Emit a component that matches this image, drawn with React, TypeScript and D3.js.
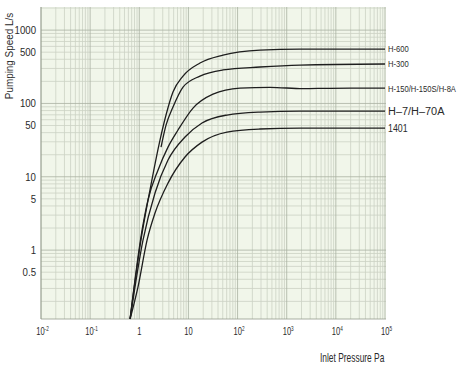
import React from 'react';
import * as d3 from 'd3';

// inlet pressure (Pa) vs pumping speed (L/s)
const pressureTicks = [0.01, 0.1, 1, 10, 100, 1000, 10000, 100000];
const pressureTickLabels: [string, string][] = [
  ['10', '-2'], ['10', '-1'], ['1', ''], ['10', ''], ['10', '2'], ['10', '3'], ['10', '4'], ['10', '5'],
];
const speedTicks = [1000, 500, 100, 50, 10, 5, 1, 0.5];

const h600: [number, number][] = [
  [0.65, 0.115], [1.08, 1.37], [1.65, 6.6], [2.64, 31.7], [3.5, 69.5], [4.85, 143],
  [7.76, 236], [17.2, 356], [50.6, 457], [286, 535], [1866, 552], [100000, 552],
];
const h300: [number, number][] = [
  [2.77, 25.4], [3.5, 50.7], [4.85, 89.3], [7.76, 167], [17.2, 236], [50.6, 286],
  [286, 314], [1866, 334], [100000, 345],
];
const h150: [number, number][] = [
  [0.65, 0.115], [1.14, 1.87], [1.5, 4.81], [2.4, 12.3], [3.84, 25.4], [6.14, 43.4],
  [12.4, 86.5], [31.6, 134], [112, 162], [457, 166], [2147, 159], [7600, 161], [100000, 162],
];
const h7: [number, number][] = [
  [0.65, 0.115], [1.19, 1.37], [2.09, 6.0], [3.84, 16.9], [8.52, 34.8], [18.9, 54.1],
  [61, 69.5], [286, 76.3], [1866, 78.7], [100000, 78.7],
];
const p1401: [number, number][] = [
  [0.65, 0.115], [0.94, 0.313], [1.44, 1.37], [2.09, 3.2], [3.84, 8.2], [8.52, 18.6],
  [18.9, 29.7], [61, 40.7], [286, 44.8], [1866, 46.2], [100000, 46.2],
];

const seriesNames = ['H-600', 'H-300', 'H-150/H-150S/H-8A', 'H\u20137/H\u201370A', '1401'];
const seriesData = [h600, h300, h150, h7, p1401];
// label font size / horizontal squeeze, the scan's type is condensed
const labelStyle = [
  { size: 9.5, sx: 0.8 },
  { size: 9.5, sx: 0.8 },
  { size: 9.5, sx: 0.8 },
  { size: 11.5, sx: 0.95 },
  { size: 11, sx: 0.8 },
];

const W = 460;
const H = 368;
const font = '"Liberation Sans", Arial, sans-serif';
const ink = '#2a2a2a';

function Txt({ x, y, sx = 1, size, anchor = 'start', rotate = 0, children }: any) {
  return (
    <text
      transform={`translate(${x},${y}) rotate(${rotate}) scale(${sx},1)`}
      fontSize={size}
      fontFamily={font}
      fill={ink}
      textAnchor={anchor}
    >
      {children}
    </text>
  );
}

export default function App() {
  const x = d3.scaleLog().domain([0.01, 100000]).range([41, 385]);
  const y = d3.scaleLog().domain([0.115, 2066]).range([319, 7]);

  const [x0, x1] = x.range();
  const [y0, y1] = y.range();

  // log paper grid: decades and 2..9 inside each
  const xMinor: number[] = [];
  for (let e = -2; e < 5; e++) for (let m = 2; m <= 9; m++) xMinor.push(m * Math.pow(10, e));
  const yMinor: number[] = [];
  for (let e = -1; e < 4; e++) for (let m = 1; m <= 9; m++) {
    const v = m * Math.pow(10, e);
    if (v > 0.115 && v < 2066 && m !== 1) yMinor.push(v);
  }
  const yMajor = [1, 10, 100, 1000];

  const line = d3.line<[number, number]>()
    .x(d => x(d[0]))
    .y(d => y(d[1]))
    .curve(d3.curveMonotoneX);

  return (
    <svg width={W} height={H} style={{ position: 'absolute', left: 0, top: 0 }}>
      <rect width={W} height={H} fill="#ffffff" />
      <rect x={x0} y={y1} width={x1 - x0 + 1} height={y0 - y1} fill="#f1f6ea" />

      {/* grid */}
      <g strokeWidth={0.8}>
        {xMinor.map((v, i) => (
          <line key={'xm' + i} x1={x(v)} x2={x(v)} y1={y1} y2={y0} stroke="#cbd2c4" />
        ))}
        {yMinor.map((v, i) => (
          <line key={'ym' + i} x1={x0} x2={x1 + 1} y1={y(v)} y2={y(v)} stroke="#cbd2c4" />
        ))}
        {pressureTicks.map((v, i) => (
          <line key={'xM' + i} x1={x(v)} x2={x(v)} y1={y1} y2={y0} stroke="#a9b1a2" />
        ))}
        {yMajor.map((v, i) => (
          <line key={'yM' + i} x1={x0} x2={x1 + 1} y1={y(v)} y2={y(v)} stroke="#a9b1a2" />
        ))}
        <line x1={x0} x2={x0} y1={y1} y2={y0} stroke="#949c8e" />
        <line x1={x0} x2={x1 + 1} y1={y0} y2={y0} stroke="#949c8e" />
      </g>

      {/* curves */}
      {seriesData.map((s, i) => (
        <path key={seriesNames[i]} d={line(s) || ''} fill="none" stroke="#1e1e1e" strokeWidth={1.3} />
      ))}

      {/* curve labels */}
      {seriesData.map((s, i) => (
        <Txt key={'lb' + i} x={x1 + 3} y={y(s[s.length - 1][1]) + labelStyle[i].size * 0.36}
          size={labelStyle[i].size} sx={labelStyle[i].sx}>
          {seriesNames[i]}
        </Txt>
      ))}

      {/* y ticks */}
      {speedTicks.map(v => (
        <Txt key={'yt' + v} x={36} y={y(v) + 3.8} size={10.5} sx={0.92} anchor="end">
          {String(v)}
        </Txt>
      ))}

      {/* x ticks */}
      {pressureTicks.map((v, i) => (
        <Txt key={'xt' + v} x={x(v) + (pressureTickLabels[i][1] ? 1.5 : 0)} y={335} size={10.5} sx={0.72} anchor="middle">
          {pressureTickLabels[i][0]}
          {pressureTickLabels[i][1] && (
            <tspan fontSize={6.5} dy={-4}>{pressureTickLabels[i][1]}</tspan>
          )}
        </Txt>
      ))}

      <Txt x={320} y={362} size={12} sx={0.7}>Inlet Pressure Pa</Txt>
      <Txt x={12.5} y={56} size={11} sx={0.9} rotate={-90} anchor="middle">Pumping Speed L/s</Txt>
    </svg>
  );
}
